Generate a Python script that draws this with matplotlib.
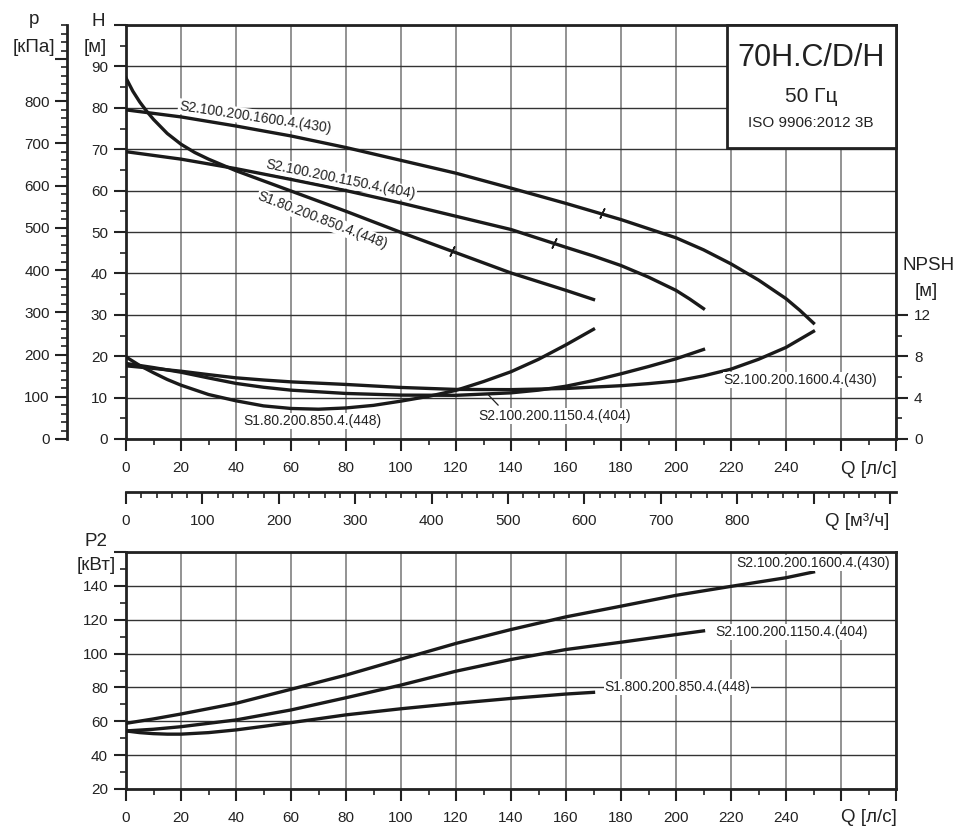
import matplotlib
matplotlib.use('Agg')
import matplotlib.pyplot as plt
from matplotlib.patches import Rectangle
from matplotlib.ticker import MultipleLocator, FuncFormatter

plt.rcParams['font.family'] = ['Liberation Sans', 'DejaVu Sans']

# ---------------- data ----------------
pump_names = ["S2.100.200.1600.4.(430)", "S2.100.200.1150.4.(404)", "S1.80.200.850.4.(448)"]
p2_names = ["S2.100.200.1600.4.(430)", "S2.100.200.1150.4.(404)", "S1.800.200.850.4.(448)"]

# Head H [m] vs Q [l/s]
q_h_1600 = [0, 20, 40, 60, 80, 100, 120, 140, 160, 180, 200, 210, 220, 230, 240, 245, 250]
h_1600 = [79.5, 77.8, 75.6, 73.2, 70.4, 67.3, 64.2, 60.6, 56.9, 53.0, 48.6, 45.7, 42.3, 38.4, 33.9, 31.1, 28.0]
q_h_1150 = [0, 20, 40, 60, 80, 100, 120, 140, 160, 170, 180, 190, 200, 205, 210]
h_1150 = [69.4, 67.6, 65.3, 62.7, 60.0, 57.0, 53.8, 50.6, 46.3, 44.2, 41.9, 39.1, 35.9, 33.8, 31.5]
q_h_850 = [0, 2.5, 5, 7.5, 10, 15, 20, 25, 30, 40, 60, 80, 100, 120, 140, 160, 170]
h_850 = [87.2, 84.0, 81.4, 79.2, 77.2, 73.8, 71.2, 69.2, 67.6, 64.8, 59.9, 55.0, 49.9, 45.0, 40.1, 35.9, 33.7]

# duty point marks on head curves
duty_q = [173, 155.6, 118.5]
duty_h = [54.5, 47.3, 45.5]

# NPSH [m] vs Q [l/s]
q_n_1600 = [0, 10, 20, 30, 40, 50, 60, 80, 100, 120, 140, 160, 180, 190, 200, 210, 220, 230, 240, 250]
n_1600 = [7.07, 6.82, 6.55, 6.22, 5.91, 5.7, 5.52, 5.27, 4.98, 4.79, 4.77, 4.88, 5.15, 5.35, 5.6, 6.1,
          6.75, 7.7, 8.85, 10.4]
q_n_1150 = [0, 10, 20, 30, 40, 50, 60, 80, 100, 120, 140, 150, 160, 170, 180, 190, 200, 210]
n_1150 = [7.3, 6.9, 6.45, 5.9, 5.37, 5.0, 4.72, 4.4, 4.24, 4.22, 4.46, 4.72, 5.1, 5.65, 6.3, 7.0, 7.75, 8.65]
q_n_850 = [0, 5, 10, 15, 20, 30, 40, 50, 60, 70, 80, 90, 100, 110, 120, 130, 140, 150, 160, 170]
n_850 = [7.93, 7.1, 6.4, 5.75, 5.2, 4.3, 3.69, 3.2, 2.95, 2.88, 3.0, 3.25, 3.66, 4.12, 4.7, 5.55, 6.5,
         7.7, 9.1, 10.6]

# Power P2 [kW] vs Q [l/s]
q_p_1600 = [0, 10, 20, 40, 60, 80, 100, 120, 140, 160, 180, 200, 220, 240, 250]
p_1600 = [58.8, 61.4, 64.3, 70.6, 78.9, 87.3, 96.7, 106.0, 114.2, 121.7, 128.0, 134.4, 139.7, 144.8, 148.2]
q_p_1150 = [0, 10, 20, 40, 60, 80, 100, 120, 140, 160, 180, 200, 210]
p_1150 = [54.3, 55.3, 56.8, 60.8, 66.7, 73.9, 81.4, 89.6, 96.5, 102.4, 106.7, 111.2, 113.4]
q_p_850 = [0, 5, 10, 15, 20, 30, 40, 50, 60, 80, 100, 120, 140, 160, 170]
p_850 = [54.3, 53.3, 52.7, 52.4, 52.4, 53.3, 54.9, 57.0, 59.2, 63.8, 67.4, 70.6, 73.5, 76.1, 77.1]

Q_MAX = 280
H_MAX = 100
M3H_PER_LS = 3.6
KPA_PER_M = 9.80665

# ---------------- figure ----------------
W, Hpx = 959, 827
fig = plt.figure(figsize=(W / 100, Hpx / 100), dpi=100)


def rect(l, t, r, b):
    return [l / W, 1 - b / Hpx, (r - l) / W, (b - t) / Hpx]


def ftext(x, y, s, **kw):
    fig.text(x / W, 1 - y / Hpx, s, ha='center', va='center', **kw)


DARK = '#222222'
CURVE = '#1a1a1a'
LW = 2.4
TICKSIZE = 11
LABELSIZE = 13.5


def style_ticks(a, axis, pad):
    a.tick_params(axis=axis, which='major', length=8.5, width=1.5, color=DARK,
                  labelsize=TICKSIZE, labelcolor=DARK, pad=pad)
    a.tick_params(axis=axis, which='minor', length=4.5, width=1.2, color=DARK)


def lim_fmt(maxv):
    return FuncFormatter(lambda v, p: '' if v > maxv + 1e-6 else f'{v:.0f}')


# ---- top panel: H ----
ax = fig.add_axes(rect(126, 25, 896, 439))
ax.set_xlim(0, Q_MAX)
ax.set_ylim(0, H_MAX)
ax.xaxis.set_major_locator(MultipleLocator(20))
ax.xaxis.set_minor_locator(MultipleLocator(10))
ax.xaxis.set_major_formatter(lim_fmt(240))
ax.yaxis.set_major_locator(MultipleLocator(10))
ax.yaxis.set_minor_locator(MultipleLocator(5))
ax.yaxis.set_major_formatter(lim_fmt(90))
style_ticks(ax, 'x', 7.5)
style_ticks(ax, 'y', 4.5)
ax.grid(which='major', axis='x', color='#808080', lw=1.2)
ax.grid(which='major', axis='y', color='#333333', lw=1.0)
for s in ax.spines.values():
    s.set_linewidth(2)
    s.set_color(DARK)

ax.plot(q_h_1600, h_1600, color=CURVE, lw=LW, zorder=4)
ax.plot(q_h_1150, h_1150, color=CURVE, lw=LW, zorder=4)
ax.plot(q_h_850, h_850, color=CURVE, lw=LW, zorder=4)
ax.plot(duty_q, duty_h, ls='none', marker=(2, 2, -25), ms=8, mew=1.1, color=CURVE, zorder=5)

bb = dict(facecolor='white', edgecolor='none', pad=0.6)
ax.text(46.9, 77.7, pump_names[0], rotation=-8.5, rotation_mode='anchor', ha='center', va='center',
        fontsize=10, color=DARK, bbox=bb, zorder=6)
ax.text(78.1, 62.7, pump_names[1], rotation=-11.5, rotation_mode='anchor', ha='center', va='center',
        fontsize=10, color=DARK, bbox=bb, zorder=6)
ax.text(71.5, 52.8, pump_names[2], rotation=-21, rotation_mode='anchor', ha='center', va='center',
        fontsize=10, color=DARK, bbox=bb, zorder=6)

# title box
ax.add_patch(Rectangle((0.7805, 0.704), 0.2195, 0.296, transform=ax.transAxes,
                       facecolor='white', edgecolor=DARK, lw=2, zorder=10, clip_on=False))
ax.text(0.8896, 0.920, '70H.C/D/H', transform=ax.transAxes, ha='center', va='center',
        fontsize=22, color=DARK, zorder=11)
ax.text(0.8896, 0.8285, '50 Гц', transform=ax.transAxes, ha='center', va='center',
        fontsize=15, color=DARK, zorder=11)
ax.text(0.8896, 0.763, 'ISO 9906:2012 3B', transform=ax.transAxes, ha='center', va='center',
        fontsize=11, color=DARK, zorder=11)

# ---- NPSH axis ----
axN = ax.twinx()
axN.set_ylim(0, H_MAX * 0.4)
axN.set_yticks([0, 4, 8, 12])
axN.set_yticks([2, 6, 10], minor=True)
style_ticks(axN, 'y', 4.5)
for s in axN.spines.values():
    s.set_visible(False)
axN.plot(q_n_1600, n_1600, color=CURVE, lw=LW, zorder=4)
axN.plot(q_n_1150, n_1150, color=CURVE, lw=LW, zorder=4)
axN.plot(q_n_850, n_850, color=CURVE, lw=LW, zorder=4)
axN.text(245.3, 14.2 * 0.4, pump_names[0], ha='center', va='center', fontsize=10, color=DARK,
         bbox=bb, zorder=6)
axN.text(155.9, 5.54 * 0.4, pump_names[1], ha='center', va='center', fontsize=10, color=DARK,
         bbox=bb, zorder=6)
axN.text(67.6, 4.34 * 0.4, pump_names[2], ha='center', va='center', fontsize=10, color=DARK,
         bbox=bb, zorder=6)
axN.plot([131.6, 135.3], [4.31, 3.28], color=DARK, lw=0.9, zorder=5)

# ---- pressure axis ----
axP = ax.twinx()
axP.set_ylim(0, H_MAX * KPA_PER_M)
axP.yaxis.tick_left()
axP.spines['left'].set_position(('axes', -59 / 770))
for k in ('right', 'top', 'bottom'):
    axP.spines[k].set_visible(False)
axP.spines['left'].set_visible(True)
axP.spines['left'].set_linewidth(2)
axP.spines['left'].set_color(DARK)
axP.yaxis.set_major_locator(MultipleLocator(100))
axP.yaxis.set_minor_locator(MultipleLocator(20))
axP.yaxis.set_major_formatter(lim_fmt(800))
style_ticks(axP, 'y', 4.0)

# ---- m3/h axis ----
axM = fig.add_axes(rect(126, 470, 896, 492))
axM.set_facecolor('none')
axM.set_xlim(0, Q_MAX * M3H_PER_LS)
for k in ('right', 'top', 'left'):
    axM.spines[k].set_visible(False)
axM.spines['bottom'].set_linewidth(2)
axM.spines['bottom'].set_color(DARK)
axM.set_yticks([])
axM.xaxis.set_major_locator(MultipleLocator(100))
axM.xaxis.set_minor_locator(MultipleLocator(20))
axM.xaxis.set_major_formatter(lim_fmt(800))
style_ticks(axM, 'x', 7.0)

# ---- bottom panel: P2 ----
axB = fig.add_axes(rect(126, 552, 896, 789))
axB.set_xlim(0, Q_MAX)
axB.set_ylim(20, 160)
axB.xaxis.set_major_locator(MultipleLocator(20))
axB.xaxis.set_minor_locator(MultipleLocator(10))
axB.xaxis.set_major_formatter(lim_fmt(240))
axB.yaxis.set_major_locator(MultipleLocator(20))
axB.yaxis.set_minor_locator(MultipleLocator(10))
axB.yaxis.set_major_formatter(lim_fmt(140))
style_ticks(axB, 'x', 7.5)
style_ticks(axB, 'y', 4.5)
axB.grid(which='major', axis='x', color='#808080', lw=1.2)
axB.grid(which='major', axis='y', color='#333333', lw=1.0)
for s in axB.spines.values():
    s.set_linewidth(2)
    s.set_color(DARK)
axB.plot(q_p_1600, p_1600, color=CURVE, lw=LW, zorder=4)
axB.plot(q_p_1150, p_1150, color=CURVE, lw=LW, zorder=4)
axB.plot(q_p_850, p_850, color=CURVE, lw=LW, zorder=4)
axB.text(250.0, 153.5, p2_names[0], ha='center', va='center', fontsize=10, color=DARK, bbox=bb, zorder=6)
axB.text(242.2, 112.8, p2_names[1], ha='center', va='center', fontsize=10, color=DARK, bbox=bb, zorder=6)
axB.text(200.5, 80.4, p2_names[2], ha='center', va='center', fontsize=10, color=DARK, bbox=bb, zorder=6)

# ---- axis titles ----
ftext(34, 20, 'p', fontsize=LABELSIZE, color=DARK)
ftext(33.5, 47, '[кПа]', fontsize=LABELSIZE, color=DARK)
ftext(98.5, 21, 'H', fontsize=LABELSIZE, color=DARK)
ftext(95, 47, '[м]', fontsize=LABELSIZE, color=DARK)
ftext(928.5, 266, 'NPSH', fontsize=LABELSIZE, color=DARK)
ftext(926, 292, '[м]', fontsize=LABELSIZE, color=DARK)
ftext(869, 470, 'Q [л/с]', fontsize=LABELSIZE, color=DARK)
ftext(857, 522, 'Q [м³/ч]', fontsize=LABELSIZE, color=DARK)
ftext(96, 542, 'P2', fontsize=LABELSIZE, color=DARK)
ftext(96, 566, '[кВт]', fontsize=LABELSIZE, color=DARK)
ftext(869, 817, 'Q [л/с]', fontsize=LABELSIZE, color=DARK)

fig.savefig('out.png', dpi=100)
